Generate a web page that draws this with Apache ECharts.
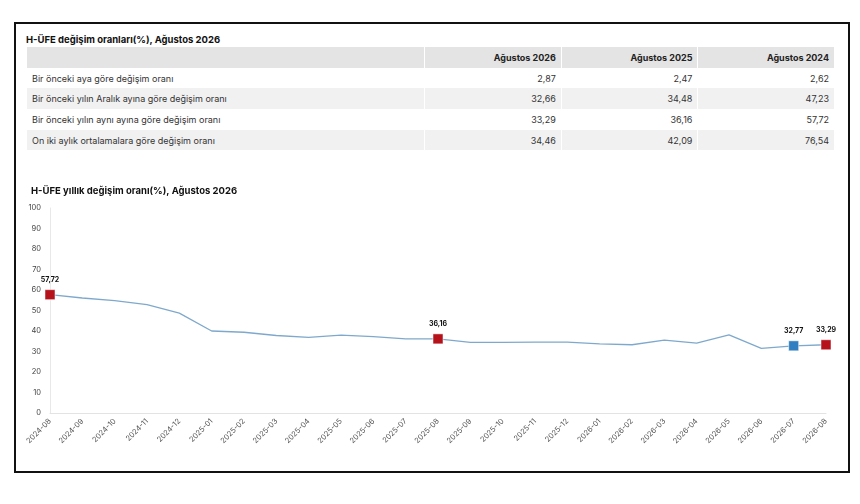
<!DOCTYPE html>
<html>
<head>
<meta charset="utf-8">
<script src="https://cdn.jsdelivr.net/npm/echarts@6/dist/echarts.min.js"></script>
<style>
  body { margin: 0; background: #fff; font-family: Inter, "Noto Sans", sans-serif; }
  .frame { position: absolute; left: 14px; top: 22px; width: 832px; height: 447px; border: 2px solid #111; }
  .ttl { position: absolute; left: 26px; top: 34px; font-size: 9.5px; font-weight: bold; color: #111; }
  table { position: absolute; left: 26px; top: 47px; width: 808px; border-collapse: collapse; font-size: 9px; color: #333; }
  td, th { height: 20.7px; padding: 0 5px; border-left: 1px solid #fff; box-sizing: border-box; }
  th { background: #e4e4e4; text-align: right; font-weight: bold; color: #222; }
  td.num { text-align: right; }
  tr:nth-child(odd) td { background: #f1f1f1; }
  tr:nth-child(even) td { background: #fff; }
  #chart { position: absolute; left: 0; top: 160px; width: 860px; height: 344px; }
</style>
</head>
<body>
<div class="frame"></div>
<div class="ttl">H-ÜFE değişim oranları(%), Ağustos 2026</div>
<table id="tbl"></table>
<div id="chart"></div>
<script>
// tablo verileri
const tableCols = ['Ağustos 2026', 'Ağustos 2025', 'Ağustos 2024']
const tableRows = [
  'Bir önceki aya göre değişim oranı',
  'Bir önceki yılın Aralık ayına göre değişim oranı',
  'Bir önceki yılın aynı ayına göre değişim oranı',
  'On iki aylık ortalamalara göre değişim oranı'
]
const tableValues = [
  ['2,87', '2,47', '2,62'],
  ['32,66', '34,48', '47,23'],
  ['33,29', '36,16', '57,72'],
  ['34,46', '42,09', '76,54']
]

// grafik verileri
const months = ['2024-08', '2024-09', '2024-10', '2024-11', '2024-12', '2025-01', '2025-02', '2025-03',
  '2025-04', '2025-05', '2025-06', '2025-07', '2025-08', '2025-09', '2025-10', '2025-11', '2025-12',
  '2026-01', '2026-02', '2026-03', '2026-04', '2026-05', '2026-06', '2026-07', '2026-08']
const yearly = [57.72, 56.1, 54.8, 52.9, 48.7, 40.0, 39.4, 37.8, 36.9, 38.0, 37.3, 36.2, 36.16, 34.5,
  34.5, 34.6, 34.6, 33.7, 33.3, 35.5, 34.1, 38.1, 31.5, 32.77, 33.29]
const redPoints = ['2024-08', '2025-08', '2026-08']
const bluePoints = ['2026-07']

// tablo
const tbl = document.getElementById('tbl')
let html = '<tr><th style="width:398px"></th>' + tableCols.map(c => `<th>${c}</th>`).join('') + '</tr>'
tableRows.forEach((r, i) => {
  html += `<tr><td>${r}</td>` + tableValues[i].map(v => `<td class="num">${v}</td>`).join('') + '</tr>'
})
tbl.innerHTML = html

const chart = echarts.init(document.getElementById('chart'))

const seriesData = yearly.map((v, i) => {
  const m = months[i]
  const red = redPoints.includes(m)
  const blue = bluePoints.includes(m)
  if (!red && !blue) return { value: v, symbol: 'none' }
  return {
    value: v,
    symbol: 'rect',
    symbolSize: 10,
    itemStyle: { color: red ? '#b5121b' : '#2f7fc1', borderColor: '#fff', borderWidth: 0.5 },
    label: { show: true }
  }
})

chart.setOption({
  animation: false,
  title: {
    text: 'H-ÜFE yıllık değişim oranı(%), Ağustos 2026',
    left: 26, top: 21,
    textStyle: { fontSize: 9.5, fontWeight: 'bold', color: '#111', fontFamily: 'Inter' }
  },
  grid: { left: 50, right: 34, top: 48, bottom: 91 },
  xAxis: {
    type: 'category',
    data: months,
    boundaryGap: false,
    axisLine: { lineStyle: { color: '#e3e3e3' } },
    axisTick: { show: false },
    axisLabel: { rotate: 45, fontSize: 7.5, color: '#555', margin: 7, interval: 0, fontFamily: 'Inter' }
  },
  yAxis: {
    type: 'value',
    min: 0, max: 100, interval: 10,
    axisLine: { show: true, lineStyle: { color: '#e8e8e8' } },
    axisTick: { show: false },
    splitLine: { show: false },
    axisLabel: { fontSize: 7.5, color: '#444', margin: 9, fontFamily: 'Inter' }
  },
  series: [{
    type: 'line',
    data: seriesData,
    lineStyle: { color: '#7fa9cc', width: 1.3 },
    itemStyle: { color: '#7fa9cc' },
    label: {
      position: 'top', distance: 6,
      fontSize: 7, fontWeight: 'bold', color: '#111', fontFamily: 'Inter',
      formatter: p => p.value.toFixed(2).replace('.', ',')
    }
  }]
})
</script>
</body>
</html>
